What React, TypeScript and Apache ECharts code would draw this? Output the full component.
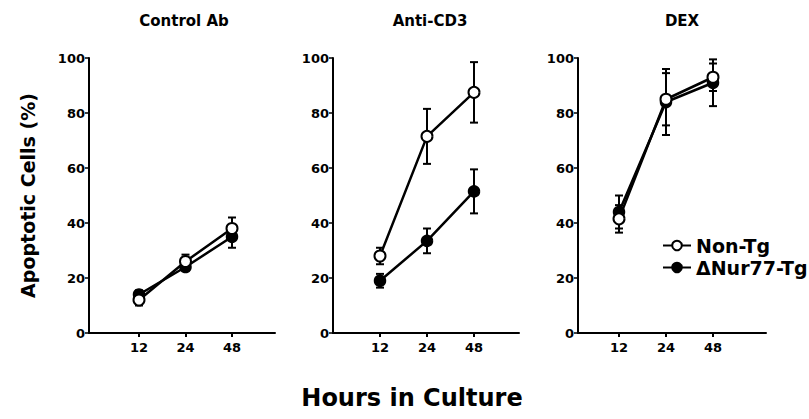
import React, { useEffect, useRef } from 'react';
import * as echarts from 'echarts';

// ---- data ----
const hours = ['12', '24', '48'];
const panelTitles = ['Control Ab', 'Anti-CD3', 'DEX'];
const seriesNames = ['Non-Tg', 'ΔNur77-Tg'];
const yTickValues = [0, 20, 40, 60, 80, 100];

const nonTgControl = [12, 26, 38];
const nonTgControlErr = [2, 2.5, 4];
const nurControl = [14, 24, 35];
const nurControlErr = [1.5, 1.5, 4];

const nonTgCD3 = [28, 71.5, 87.5];
const nonTgCD3Err = [3, 10, 11];
const nurCD3 = [19, 33.5, 51.5];
const nurCD3Err = [2.5, 4.5, 8];

const nonTgDex = [41.5, 85, 93];
const nonTgDexErr = [5, 9.5, 5];
const nurDex = [44, 84, 91];
const nurDexErr = [6, 12, 8.5];

const panelNonTg = [nonTgControl, nonTgCD3, nonTgDex];
const panelNonTgErr = [nonTgControlErr, nonTgCD3Err, nonTgDexErr];
const panelNur = [nurControl, nurCD3, nurDex];
const panelNurErr = [nurControlErr, nurCD3Err, nurDexErr];

// ---- layout (pixels) ----
const FONT = 'DejaVu Sans';
const grids = [
  { left: 89, width: 186, first: 50, step: 46.5 },
  { left: 333, width: 186, first: 47, step: 47 },
  { left: 578, width: 188, first: 41, step: 47 },
];
const GRID_TOP = 58;
const GRID_HEIGHT = 275;

export default function App() {
  const ref = useRef<HTMLDivElement>(null);

  useEffect(() => {
    if (!ref.current) return;
    const chart = echarts.init(ref.current, undefined, { renderer: 'svg' });

    const xIdx = hours.map((_, i) => i);

    const grid = grids.map((g) => ({
      left: g.left,
      top: GRID_TOP,
      width: g.width,
      height: GRID_HEIGHT,
      containLabel: false,
    }));

    const xAxis = grids.map((g, p) => {
      const min = -g.first / g.step;
      const max = min + g.width / g.step;
      return {
        type: 'value',
        gridIndex: p,
        min,
        max,
        splitLine: { show: false },
        axisLine: { show: true, onZero: false, lineStyle: { color: '#000', width: 2 } },
        axisTick: { show: true, customValues: xIdx, length: 4, lineStyle: { color: '#000', width: 2 } },
        axisLabel: {
          customValues: xIdx,
          formatter: (v: number) => hours[Math.round(v)] ?? '',
          color: '#000',
          fontFamily: FONT,
          fontWeight: 'bold',
          fontSize: 13,
          margin: 8,
        },
      };
    });

    const yAxis = grids.map((_, p) => ({
      type: 'value',
      gridIndex: p,
      min: yTickValues[0],
      max: yTickValues[yTickValues.length - 1],
      interval: yTickValues[1] - yTickValues[0],
      splitLine: { show: false },
      axisLine: { show: true, onZero: false, lineStyle: { color: '#000', width: 2 } },
      axisTick: { show: true, length: 4, lineStyle: { color: '#000', width: 1.5 } },
      axisLabel: {
        color: '#000',
        fontFamily: FONT,
        fontWeight: 'bold',
        fontSize: 13,
        margin: 4,
      },
      name: p === 0 ? 'Apoptotic Cells (%)' : '',
      nameLocation: 'middle',
      nameRotate: 90,
      nameGap: 52,
      nameTextStyle: {
        color: '#000',
        fontFamily: FONT,
        fontWeight: 'bold',
        fontSize: 19,
      },
    }));

    const errRender = (params: any, api: any) => {
      const x = api.value(0);
      const lo = api.coord([x, api.value(1)]);
      const hi = api.coord([x, api.value(2)]);
      const hw = 4;
      const style = { stroke: '#000', lineWidth: 2 };
      return {
        type: 'group',
        children: [
          { type: 'line', shape: { x1: lo[0], y1: lo[1], x2: hi[0], y2: hi[1] }, style },
          { type: 'line', shape: { x1: hi[0] - hw, y1: hi[1], x2: hi[0] + hw, y2: hi[1] }, style },
          { type: 'line', shape: { x1: lo[0] - hw, y1: lo[1], x2: lo[0] + hw, y2: lo[1] }, style },
        ],
      };
    };

    const series: any[] = [];
    grids.forEach((_, p) => {
      const errData: number[][] = [];
      xIdx.forEach((i) => {
        errData.push([i, panelNur[p][i] - panelNurErr[p][i], panelNur[p][i] + panelNurErr[p][i]]);
        errData.push([i, panelNonTg[p][i] - panelNonTgErr[p][i], panelNonTg[p][i] + panelNonTgErr[p][i]]);
      });
      series.push({
        type: 'custom',
        name: 'error-' + p,
        xAxisIndex: p,
        yAxisIndex: p,
        renderItem: errRender,
        encode: { x: 0, y: [1, 2] },
        data: errData,
        z: 2,
        silent: true,
      });
      series.push({
        type: 'line',
        name: seriesNames[1],
        xAxisIndex: p,
        yAxisIndex: p,
        data: xIdx.map((i) => [i, panelNur[p][i]]),
        symbol: 'circle',
        symbolSize: 11,
        lineStyle: { color: '#000', width: 2.5 },
        itemStyle: { color: '#000', borderColor: '#000', borderWidth: 1.5 },
        z: 3,
      });
      series.push({
        type: 'line',
        name: seriesNames[0],
        xAxisIndex: p,
        yAxisIndex: p,
        data: xIdx.map((i) => [i, panelNonTg[p][i]]),
        symbol: 'circle',
        symbolSize: 11,
        lineStyle: { color: '#000', width: 2.5 },
        itemStyle: { color: '#fff', borderColor: '#000', borderWidth: 2 },
        z: 4,
      });
    });

    const titleCenters = [184, 430, 682];

    chart.setOption({
      animation: false,
      backgroundColor: '#fff',
      grid,
      xAxis,
      yAxis,
      series,
      legend: {
        data: seriesNames,
        orient: 'vertical',
        left: 662,
        top: 236,
        itemWidth: 28,
        itemHeight: 12,
        itemGap: 3,
        padding: 0,
        selectedMode: false,
        textStyle: {
          color: '#000',
          fontFamily: FONT,
          fontWeight: 'bold',
          fontSize: 19,
        },
      },
      graphic: [
        ...panelTitles.map((t, p) => ({
          type: 'text',
          x: titleCenters[p],
          y: 21,
          style: {
            text: t,
            fill: '#000',
            font: `bold 15px "${FONT}"`,
            align: 'center',
            verticalAlign: 'middle',
          },
        })),
        {
          type: 'text',
          x: 412,
          y: 398,
          style: {
            text: 'Hours in Culture',
            fill: '#000',
            font: `bold 24px "${FONT}"`,
            align: 'center',
            verticalAlign: 'middle',
          },
        },
      ],
    });

    return () => chart.dispose();
  }, []);

  return (
    <div
      ref={ref}
      style={{ position: 'fixed', left: 0, top: 0, width: 809, height: 419, background: '#fff' }}
    />
  );
}
